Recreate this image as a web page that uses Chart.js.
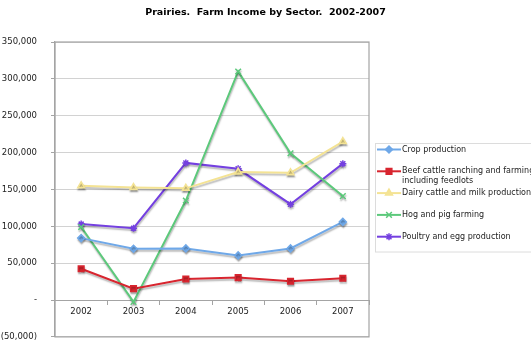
<!DOCTYPE html>
<html>
<head>
<meta charset="utf-8">
<title>Prairies. Farm Income by Sector. 2002-2007</title>
<script src="https://cdn.jsdelivr.net/npm/chart.js@4"></script>
<style>
  body { margin: 0; background: #fff; }
  #chdiv { position: relative; width: 531px; height: 356px; }
</style>
</head>
<body>
<div id="chdiv">
    <canvas id="incomeChart"></canvas>
</div>
<script>
// Farm income by sector, thousands of dollars
const years = ['2002', '2003', '2004', '2005', '2006', '2007'];
const cropProduction = [84000, 69500, 70000, 60500, 70000, 106000];
const beefCattle = [42500, 15500, 28500, 30500, 25500, 29500];
const dairyCattle = [155000, 152500, 151500, 173500, 172500, 215000];
const hogFarming = [99000, -2500, 135000, 310000, 199000, 141000];
const poultryEgg = [103000, 97500, 186000, 178000, 130000, 185000];

const chartTitle = 'Prairies.  Farm Income by Sector.  2002-2007';
const yMin = -50000;
const yMax = 350000;
const yStep = 50000;

const makeSeries = (label, data, color, pointStyle, radius) => ({
    label: label,
    data: data,
    borderColor: color,
    backgroundColor: color,
    borderWidth: 2,
    pointStyle: pointStyle,
    pointRadius: radius,
    pointBorderWidth: 1.5,
    tension: 0
});

// accounting style: zero as a dash, negatives in brackets
const formatTick = (v) => {
    if (v === 0) return '-';
    const s = Math.abs(v).toLocaleString('en-US');
    return v < 0 ? '(' + s + ')' : s;
};

// title centred across the whole canvas, not just the plot
const pageTitle = {
    id: 'pageTitle',
    afterDraw(chart) {
        const ctx = chart.ctx;
        ctx.save();
        ctx.font = 'bold 9.5px "DejaVu Sans"';
        ctx.fillStyle = '#000';
        ctx.textAlign = 'center';
        ctx.textBaseline = 'middle';
        ctx.fillText(chartTitle, chart.width / 2, 12.5);
        ctx.restore();
    }
};

// soft grey drop shadow under the lines
const lineShadow = {
    id: 'lineShadow',
    beforeDatasetsDraw(chart) {
        const ctx = chart.ctx;
        ctx.save();
        ctx.shadowColor = 'rgba(0,0,0,0.28)';
        ctx.shadowBlur = 1.5;
        ctx.shadowOffsetX = 0.5;
        ctx.shadowOffsetY = 2;
    },
    afterDatasetsDraw(chart) {
        chart.ctx.restore();
    }
};

// grey frame round the plot area
const plotFrame = {
    id: 'plotFrame',
    beforeDatasetsDraw(chart) {
        const {ctx, chartArea: a} = chart;
        ctx.save();
        ctx.strokeStyle = '#a4a4a4';
        ctx.lineWidth = 1.2;
        ctx.strokeRect(a.left, a.top, a.right - a.left, a.bottom - a.top);
        ctx.restore();
    }
};

// boxed legend to the right of the plot, labels may wrap onto two lines
const sideLegend = {
    id: 'sideLegend',
    afterDraw(chart) {
        const ctx = chart.ctx;
        const x0 = 375.5, y0 = 143.5;
        ctx.save();
        ctx.strokeStyle = '#dcdcdc';
        ctx.lineWidth = 1;
        ctx.strokeRect(x0, y0, 200, 108.5);
        ctx.font = '8px "DejaVu Sans"';
        ctx.textBaseline = 'middle';
        let y = 149.5;
        chart.data.datasets.forEach((ds) => {
            ctx.strokeStyle = ds.borderColor;
            ctx.fillStyle = ds.backgroundColor;
            ctx.lineWidth = 2;
            ctx.beginPath();
            ctx.moveTo(377, y);
            ctx.lineTo(401, y);
            ctx.stroke();
            ctx.lineWidth = 1.5;
            Chart.helpers.drawPoint(ctx, {
                pointStyle: ds.pointStyle,
                radius: ds.pointRadius,
                rotation: 0,
                borderWidth: 1.5
            }, 389, y);
            ctx.fillStyle = '#222';
            ds.label.split('\n').forEach((line, i) => {
                ctx.fillText(line, 402, y + i * 10);
            });
            y += 21.8;
        });
        ctx.restore();
    }
};

new Chart(document.getElementById('incomeChart').getContext('2d'), {
    type: 'line',
    data: {
        labels: years,
        datasets: [
            makeSeries('Crop production', cropProduction, '#6fa8e8', 'rectRot', 3.5),
            makeSeries('Beef cattle ranching and farming\nincluding feedlots', beefCattle, '#d8252f', 'rect', 4),
            makeSeries('Dairy cattle and milk production', dairyCattle, '#f4e394', 'triangle', 4),
            makeSeries('Hog and pig farming', hogFarming, '#5cc97b', 'crossRot', 4),
            makeSeries('Poultry and egg production', poultryEgg, '#7440e0', 'star', 3.5)
        ]
    },
    options: {
        responsive: true,
        maintainAspectRatio: false,
        animation: false,
        layout: {
            padding: {left: 0, right: 162, top: 42, bottom: 4}
        },
        plugins: {
            legend: {display: false},
            tooltip: {enabled: false},
            title: {display: false}
        },
        scales: {
            x: {
                position: {y: 0},
                offset: true,
                grid: {
                    offset: true,
                    drawOnChartArea: false,
                    drawTicks: true,
                    tickLength: 4,
                    tickColor: '#a4a4a4'
                },
                border: {display: true, color: '#a4a4a4', width: 1},
                ticks: {
                    color: '#222',
                    padding: 3,
                    maxRotation: 0,
                    font: {family: '"DejaVu Sans"', size: 8.5}
                }
            },
            y: {
                min: yMin,
                max: yMax,
                afterFit(scale) {
                    scale.width = 55;
                },
                grid: {
                    color: '#d2d2d2',
                    lineWidth: 1,
                    drawTicks: true,
                    tickLength: 4,
                    tickColor: '#a4a4a4'
                },
                border: {display: true, color: '#a4a4a4', width: 1.2},
                ticks: {
                    stepSize: yStep,
                    color: '#222',
                    padding: 14,
                    font: {family: '"DejaVu Sans"', size: 8.5},
                    callback: formatTick
                }
            }
        }
    },
    plugins: [plotFrame, lineShadow, sideLegend, pageTitle]
});
</script>
</body>
</html>
